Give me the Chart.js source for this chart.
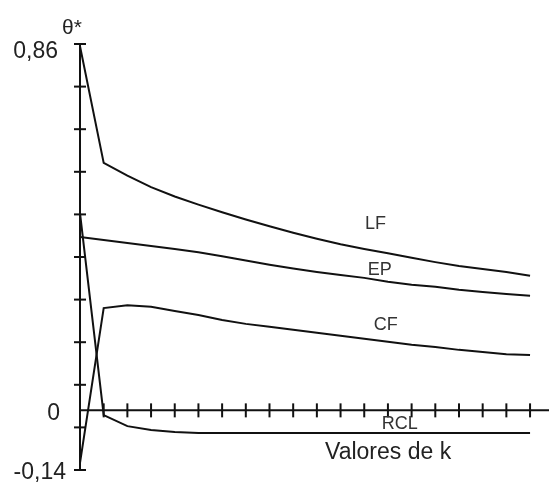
<!DOCTYPE html>
<html>
<head>
<meta charset="utf-8">
<script src="https://cdn.jsdelivr.net/npm/chart.js@4"></script>
<style>
  body { margin: 0; background: #fff; }
  #wrap { width: 549px; height: 482px; position: relative; }
</style>
</head>
<body>
<div id="wrap"><canvas id="theta-chart"></canvas></div>
<script>
// valores de k
const kValues = [0, 1, 2, 3, 4, 5, 6, 7, 8, 9, 10, 11, 12, 13, 14, 15, 16, 17, 18, 19];

const lfData = [0.855, 0.581, 0.551, 0.524, 0.502, 0.483, 0.465, 0.448, 0.432, 0.417,
                0.403, 0.390, 0.379, 0.369, 0.358, 0.348, 0.339, 0.332, 0.325, 0.316];
const epData = [0.407, 0.400, 0.393, 0.386, 0.379, 0.371, 0.362, 0.352, 0.342, 0.333,
                0.325, 0.318, 0.311, 0.302, 0.295, 0.290, 0.283, 0.278, 0.273, 0.269];
const cfData = [-0.123, 0.240, 0.247, 0.243, 0.233, 0.224, 0.212, 0.203, 0.196, 0.189,
                0.182, 0.175, 0.168, 0.161, 0.154, 0.149, 0.142, 0.137, 0.132, 0.130];
const rclData = [0.463, -0.011, -0.037, -0.046, -0.051, -0.053, -0.053, -0.053, -0.053, -0.053,
                 -0.053, -0.053, -0.053, -0.053, -0.053, -0.053, -0.053, -0.053, -0.053, -0.053];

const seriesNames = ["LF", "EP", "CF", "RCL"];

// marcas dos eixos
const xTicks = [1, 2, 3, 4, 5, 6, 7, 8, 9, 10, 11, 12, 13, 14, 15, 16, 17, 18, 19];
const yTicks = [0.86, 0.76, 0.66, 0.56, 0.46, 0.36, 0.26, 0.16, 0.06, -0.04, -0.14];
const yTickLabels = [{ v: 0.86, t: "0,86" }, { v: 0, t: "0" }, { v: -0.14, t: "-0,14" }];

// posicao dos nomes das curvas (em coordenadas de dados)
const nameSpots = [
  { k: 12.03, v: 0.437 },
  { k: 12.15, v: 0.330 },
  { k: 12.40, v: 0.201 },
  { k: 12.74, v: -0.032 },
];

function toPoints(arr) {
  return arr.map((v, i) => ({ x: kValues[i], y: v }));
}

const allSeries = [lfData, epData, cfData, rclData];

const datasets = allSeries.map((arr, i) => ({
  label: seriesNames[i],
  data: toPoints(arr),
  borderColor: "#111",
  borderWidth: 2,
  pointRadius: 0,
  tension: 0,
  fill: false,
}));

const axesPlugin = {
  id: "axesPlugin",
  afterDatasetsDraw(chart) {
    const c = chart.ctx;
    const xs = chart.scales.x;
    const ys = chart.scales.y;
    const x0 = xs.getPixelForValue(0);
    const y0 = ys.getPixelForValue(0);

    c.save();
    c.strokeStyle = "#111";
    c.lineWidth = 2;

    // eixo y
    c.beginPath();
    c.moveTo(x0, ys.getPixelForValue(0.86));
    c.lineTo(x0, ys.getPixelForValue(-0.14) + 1);
    c.stroke();
    yTicks.forEach((v) => {
      const y = ys.getPixelForValue(v);
      c.beginPath();
      c.moveTo(x0 - 6, y);
      c.lineTo(x0 + 6, y);
      c.stroke();
    });

    // eixo x
    c.beginPath();
    c.moveTo(x0, y0);
    c.lineTo(chart.width, y0);
    c.stroke();
    xTicks.forEach((k) => {
      const x = xs.getPixelForValue(k);
      c.beginPath();
      c.moveTo(x, y0 - 7);
      c.lineTo(x, y0 + 7);
      c.stroke();
    });

    // textos dos eixos
    c.fillStyle = "#222";
    c.font = "23px 'Liberation Sans', Arial, sans-serif";
    c.textBaseline = "middle";
    c.textAlign = "right";
    yTickLabels.forEach((o) => {
      const extra = o.v < 0 ? 14 : o.v === 0 ? 20 : 22;
      const dy = o.v > 0.5 ? 8 : 3;
      c.fillText(o.t, x0 - extra, ys.getPixelForValue(o.v) + dy);
    });
    c.textAlign = "left";
    c.font = "21px 'Liberation Sans', Arial, sans-serif";
    c.fillText("θ*", 62, 28);
    c.font = "23px 'Liberation Sans', Arial, sans-serif";
    c.fillText("Valores de k", 325, 453);

    // nomes das curvas
    c.fillStyle = "#333";
    c.font = "18px 'Liberation Sans', Arial, sans-serif";
    nameSpots.forEach((p, i) => {
      c.fillText(seriesNames[i], xs.getPixelForValue(p.k), ys.getPixelForValue(p.v));
    });
    c.restore();
  },
};

const ctx = document.getElementById("theta-chart").getContext("2d");

const chart = new Chart(ctx, {
  type: "line",
  data: { datasets: datasets },
  options: {
    responsive: true,
    maintainAspectRatio: false,
    animation: false,
    layout: { padding: { left: 80, right: 0, top: 44, bottom: 12 } },
    plugins: {
      legend: { display: false },
      tooltip: { enabled: false },
    },
    scales: {
      x: { type: "linear", min: 0, max: 19.8, display: false },
      y: { min: -0.14, max: 0.86, display: false },
    },
  },
  plugins: [axesPlugin],
});
</script>
</body>
</html>
